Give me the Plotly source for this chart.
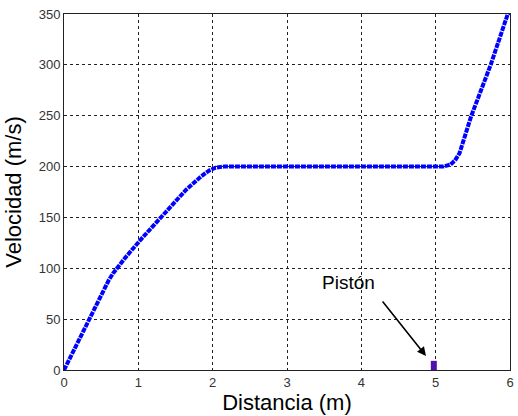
import plotly.graph_objects as go

# Curve (Distancia m, Velocidad m/s)
dist = [0, 0.10, 0.20, 0.337, 0.45, 0.524, 0.60, 0.66, 0.72, 0.82, 1.03, 1.30, 1.50, 1.64,
        1.84, 1.95, 2.04, 2.15, 3.0, 4.0, 5.0, 5.10, 5.20, 5.26, 5.32, 5.48, 5.74, 5.97, 6.0]
vel = [0, 15, 30, 50, 67, 78.6, 88, 95, 101, 110, 128, 150, 166, 177,
       190, 196, 199, 200, 200, 200, 200, 200, 202, 206, 213, 250, 300, 350, 352]

piston_x = [4.975, 4.975]
piston_y = [0, 9]

x_ticks = [0, 1, 2, 3, 4, 5, 6]
y_ticks = [0, 50, 100, 150, 200, 250, 300, 350]

FONT = "Arial, Liberation Sans, sans-serif"

fig = go.Figure()
fig.add_trace(go.Scatter(x=dist, y=vel, mode="lines",
                         line=dict(color="#0000ff", width=4, dash="5px,1px"),
                         hoverinfo="skip"))
fig.add_trace(go.Scatter(x=piston_x, y=piston_y, mode="lines",
                         line=dict(color="#5010b0", width=6),
                         hoverinfo="skip"))

fig.add_annotation(x=4.87, y=13.8, ax=4.27, ay=68.8, xref="x", yref="y",
                   axref="x", ayref="y", text="", showarrow=True,
                   arrowhead=2, arrowsize=1.1, arrowwidth=1.6, arrowcolor="black")
fig.add_annotation(x=3.83, y=86.5, xref="x", yref="y", text="Pistón",
                   showarrow=False, font=dict(family=FONT, size=19, color="black"))

axis_common = dict(showline=True, mirror=True, linecolor="#222", linewidth=1,
                   showgrid=True, gridcolor="#222", gridwidth=1, griddash="3px,3px",
                   zeroline=False, ticks="",
                   tickfont=dict(family=FONT, size=13, color="#333"))

fig.update_xaxes(range=[0, 6], tickvals=x_ticks, ticktext=[str(v) for v in x_ticks],
                 title=dict(text="Distancia (m)", font=dict(family=FONT, size=22, color="black"),
                            standoff=2),
                 **axis_common)
fig.update_yaxes(range=[0, 350], tickvals=y_ticks, ticktext=[str(v) for v in y_ticks],
                 title=dict(text="Velocidad (m/s)", font=dict(family=FONT, size=22, color="black"),
                            standoff=10),
                 **axis_common)

fig.update_layout(width=518, height=416, showlegend=False,
                  margin=dict(l=64, r=4, t=14, b=46),
                  paper_bgcolor="white", plot_bgcolor="white")

fig.write_html("out.html")
